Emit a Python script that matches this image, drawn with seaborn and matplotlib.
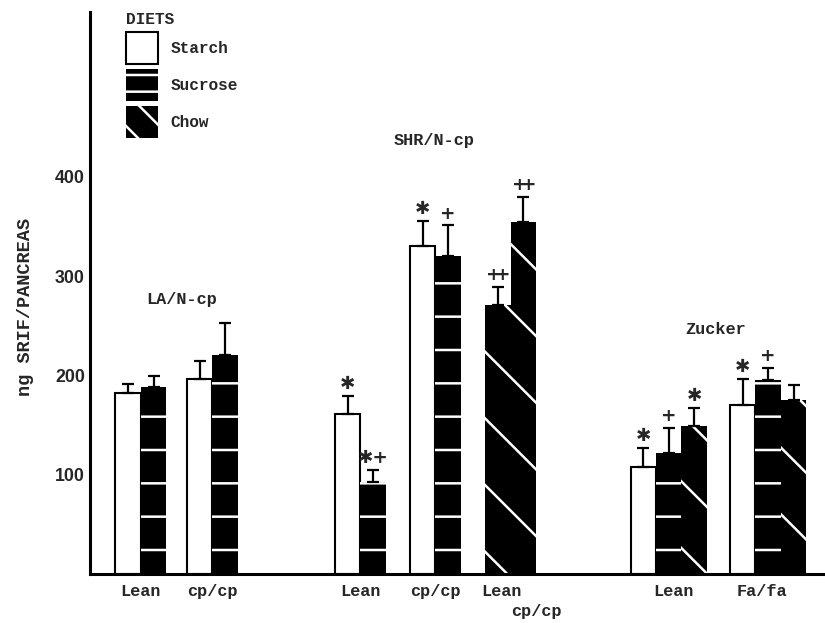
import matplotlib
matplotlib.use('Agg')
import numpy as np
import pandas as pd
import matplotlib.pyplot as plt
import seaborn as sns
from matplotlib.patches import Patch

# ng SRIF per pancreas, mean and SEM
strain = ['LA/N-cp'] * 4 + ['SHR/N-cp'] * 6 + ['Zucker'] * 6
phenotype = ['Lean', 'Lean', 'cp/cp', 'cp/cp',
             'Lean', 'Lean', 'cp/cp', 'cp/cp', 'Lean', 'cp/cp',
             'Lean', 'Lean', 'Lean', 'Fa/fa', 'Fa/fa', 'Fa/fa']
diet = ['Starch', 'Sucrose', 'Starch', 'Sucrose',
        'Starch', 'Sucrose', 'Starch', 'Sucrose', 'Chow', 'Chow',
        'Starch', 'Sucrose', 'Chow', 'Starch', 'Sucrose', 'Chow']
mean = [182, 188, 196, 221,
        161, 93, 330, 320, 271, 355,
        108, 122, 149, 170, 195, 175]
sem = [9, 11, 19, 32,
       18, 12, 26, 31, 18, 25,
       19, 25, 18, 26, 12, 15]
marks = ['', '', '', '',
         '*', '*+', '*', '+', '++', '++',
         '*', '+', '*', '*', '+', '']

diets = ['Starch', 'Sucrose', 'Chow']
yticks = [100, 200, 300, 400]

# layout: bar slots in units of one bar width
slot = [1.5, 2.5, 4.3, 5.3,
        10.1, 11.1, 13.05, 14.05, 16.0, 17.0,
        21.7, 22.7, 23.7, 25.6, 26.6, 27.6]
tick_pos = [2.0, 4.8, 10.6, 13.55, 16.15, 22.87, 26.37]
tick_lab = ['Lean', 'cp/cp', 'Lean', 'cp/cp', 'Lean', 'Lean', 'Fa/fa']

df = pd.DataFrame({'pos': slot, 'value': mean, 'diet': diet})

plt.rcParams['hatch.linewidth'] = 0.9
sns.set_style('white')

# dpi 200 so the hatch lines come out sparse like the print
fig = plt.figure(figsize=(8.25 / 2, 6.23 / 2), dpi=200)
ax = fig.add_axes([90 / 825, 49 / 623, 733 / 825, 562 / 623])

sns.barplot(data=df, x='pos', y='value', hue='diet', hue_order=diets,
            native_scale=True, dodge=False, width=1, errorbar=None,
            palette={'Starch': 'white', 'Sucrose': 'black', 'Chow': 'black'},
            legend=False, ax=ax)

styles = {'Starch': dict(fc='white', ec='black', lw=0.75, hatch=None),
          'Sucrose': dict(fc='black', ec='white', lw=0, hatch='-'),
          'Chow': dict(fc='black', ec='white', lw=0, hatch='\\')}
for cont, d in zip(ax.containers, diets):
    for p in cont:
        p.set_facecolor(styles[d]['fc'])
        p.set_edgecolor(styles[d]['ec'])
        p.set_linewidth(styles[d]['lw'])
        p.set_hatch(styles[d]['hatch'])

# one-sided error bars
ax.errorbar(slot, mean, yerr=[np.zeros(len(sem)), sem], fmt='none',
            ecolor='black', elinewidth=0.8, capsize=2.2, capthick=0.8, zorder=3)

sym = {'*': '\u2731', '+': '+', '++': r'$\mathbf{+}\!\!\mathbf{+}$',
       '*+': '\u2731+'}
for x, m, s, k in zip(slot, mean, sem, marks):
    if k:
        ax.text(x, m + s + 3, sym[k], ha='center', va='bottom', fontsize=6.6,
                fontweight='bold', family='DejaVu Sans')

# strain titles
lab = dict(family='Liberation Mono', fontweight='bold', fontsize=6.1)
ax.text(3.6, 276, 'LA/N-cp', ha='center', va='center', **lab)
ax.text(13.5, 437, 'SHR/N-cp', ha='center', va='center', **lab)
ax.text(24.55, 246, 'Zucker', ha='center', va='center', **lab)

ax.set_xlim(0, 28.75)
ax.set_ylim(0, 566)
ax.set_xticks(tick_pos, tick_lab, **lab)
ax.tick_params(axis='x', length=0, pad=3.5)
ax.text(17.5, -38, 'cp/cp', ha='center', va='center', **lab)

ax.set_yticks(yticks, [str(t) for t in yticks], family='Liberation Sans',
              fontweight='bold', fontsize=6.4)
ax.tick_params(axis='y', direction='in', length=9, width=0.75, pad=1.8)
ax.set_xlabel('')
ax.set_ylabel('ng SRIF/PANCREAS', family='Liberation Mono', fontweight='bold',
              fontsize=6.7)
ax.yaxis.set_label_coords(-0.077, 0.475)

sns.despine(ax=ax)
for side in ['left', 'bottom']:
    ax.spines[side].set_linewidth(1.1)
    ax.spines[side].set_color('black')

handles = [Patch(facecolor='white', edgecolor='black', lw=0.75),
           Patch(facecolor='black', edgecolor='white', lw=0, hatch='--'),
           Patch(facecolor='black', edgecolor='white', lw=0, hatch='\\\\')]
leg = ax.legend(handles, diets, title='DIETS', loc='upper left',
                bbox_to_anchor=(126 / 825, 1 - 12 / 623), bbox_transform=fig.transFigure,
                frameon=False, handlelength=2.0, handleheight=2.7, labelspacing=0.3,
                handletextpad=0.75, borderaxespad=0, borderpad=0, alignment='left',
                prop={'family': 'Liberation Mono', 'weight': 'bold', 'size': 5.8},
                title_fontproperties={'family': 'Liberation Mono', 'weight': 'bold',
                                      'size': 5.8})

fig.savefig('out.png', dpi=200)
